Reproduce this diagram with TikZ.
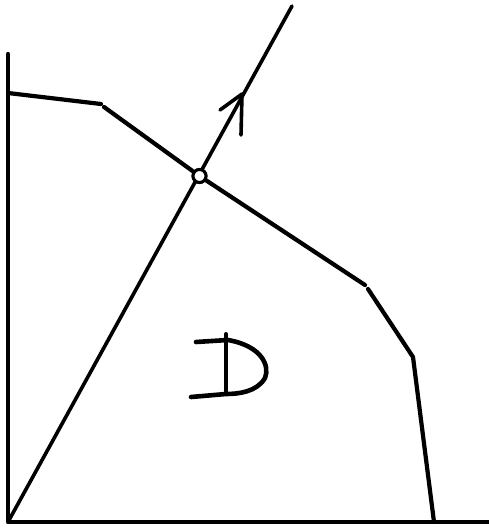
\documentclass[tikz,border=0pt]{standalone}
\begin{document}
\begin{tikzpicture}[x=1pt,y=-1pt,
  ink/.style={line width=4.2pt,line cap=round,line join=round},
  dot/.style={circle,draw,line width=3pt,minimum size=13pt,inner sep=0pt,fill=white}]
\useasboundingbox (0,0) rectangle (489,531);
\coordinate (O) at (8,522);
\coordinate (ytop) at (8,54);
\coordinate (xend) at (489,522);
\coordinate (v0) at (8,93);
\coordinate (v1) at (101,104);
\coordinate (v1b) at (104,107);
\coordinate (v3) at (365,285);
\coordinate (v3b) at (368,289);
\coordinate (v4) at (413,357);
\coordinate (v5) at (434,522);
\coordinate (top) at (292,6);
\coordinate (tip) at (242,94);
\coordinate (al) at (220,110);
\coordinate (ar) at (241,135);
% axes
\draw[ink] (ytop) -- (O) -- (xend);
% ray
\draw[ink,line width=3.6pt] (O) -- (top);
% boundary
\draw[ink] (v0) -- (v1);
\node[dot] (p) at (199.5,176) {};
\draw[ink] (v1b) -- (p);
\draw[ink] (p) -- (v3);
\draw[ink] (v3b) -- (v4) -- (v5);
\node[dot] at (p) {};
% arrowhead
\draw[ink,line width=3.6pt] (al) -- (tip) -- (ar);
% label D
\node (D) at (232,368) {};
\draw[ink,line width=4.6pt] (196,342) -- (228,340) .. controls (262,346) and (270,366) .. (265,378)
  .. controls (257,392) and (238,394) .. (226,394) -- (191,397);
\draw[ink,line width=4pt] (226,334) -- (226,393);
\end{tikzpicture}
\end{document}
